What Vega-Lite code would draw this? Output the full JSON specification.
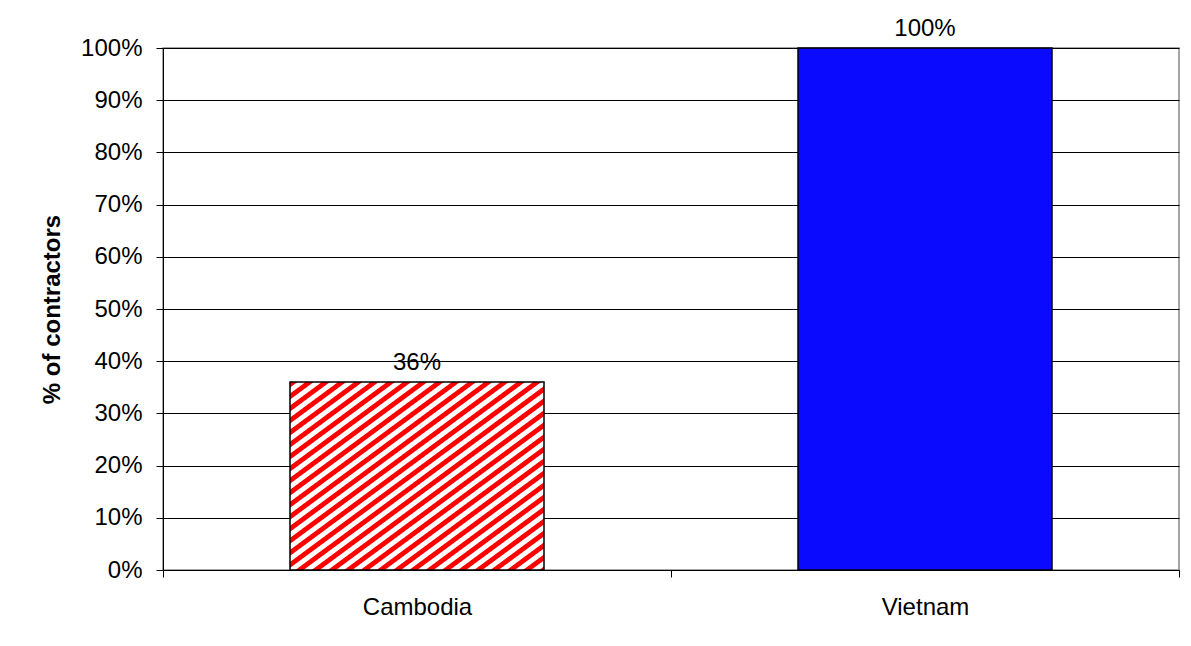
{
  "$schema": "https://vega.github.io/schema/vega-lite/v6.json",
  "width": 1016,
  "height": 522,
  "autosize": {"type": "none"},
  "padding": {"left": 163, "top": 48, "right": 12, "bottom": 76},
  "background": "white",
  "config": {
    "font": "Liberation Sans",
    "view": {"stroke": "#888888", "strokeWidth": 1.5}
  },
  "data": {
    "values": [
      {"country": "Cambodia", "pct": 0.36},
      {"country": "Vietnam", "pct": 1.0}
    ]
  },
  "encoding": {
    "x": {
      "field": "country",
      "type": "nominal",
      "sort": null,
      "scale": {"paddingInner": 0, "paddingOuter": 0},
      "axis": {
        "title": null,
        "labelAngle": 0,
        "labelFontSize": 24,
        "labelColor": "black",
        "labelPadding": 18,
        "domainColor": "black",
        "tickColor": "black",
        "tickSize": 7,
        "tickBand": "extent",
        "grid": false
      }
    },
    "y": {
      "field": "pct",
      "type": "quantitative",
      "scale": {"domain": [0, 1], "nice": false},
      "axis": {
        "format": ".0%",
        "values": [0, 0.1, 0.2, 0.3, 0.4, 0.5, 0.6, 0.7, 0.8, 0.9, 1.0],
        "title": "% of contractors",
        "titleFontSize": 24,
        "titleFontWeight": "bold",
        "titleColor": "black",
        "titlePadding": 16,
        "labelFontSize": 24,
        "labelColor": "black",
        "labelPadding": 14,
        "tickSize": 7,
        "tickColor": "black",
        "domainColor": "black",
        "gridColor": "black",
        "gridOpacity": 1
      }
    }
  },
  "layer": [
    {
      "transform": [{"filter": "datum.country === 'Cambodia'"}],
      "mark": {
        "type": "bar",
        "width": {"band": 0.5},
        "stroke": "black",
        "strokeWidth": 1.5,
        "fill": {
          "gradient": "linear",
          "x1": 0, "y1": 0, "x2": 1, "y2": 1,
          "stops": [
            {"offset": 0, "color": "#ff0000"}, {"offset": 0.013, "color": "#ff0000"}, {"offset": 0.016, "color": "#ffffff"}, {"offset": 0.029, "color": "#ffffff"},
            {"offset": 0.032, "color": "#ff0000"}, {"offset": 0.045, "color": "#ff0000"}, {"offset": 0.048, "color": "#ffffff"}, {"offset": 0.061, "color": "#ffffff"},
            {"offset": 0.064, "color": "#ff0000"}, {"offset": 0.077, "color": "#ff0000"}, {"offset": 0.08, "color": "#ffffff"}, {"offset": 0.093, "color": "#ffffff"},
            {"offset": 0.096, "color": "#ff0000"}, {"offset": 0.109, "color": "#ff0000"}, {"offset": 0.112, "color": "#ffffff"}, {"offset": 0.125, "color": "#ffffff"},
            {"offset": 0.128, "color": "#ff0000"}, {"offset": 0.141, "color": "#ff0000"}, {"offset": 0.144, "color": "#ffffff"}, {"offset": 0.157, "color": "#ffffff"},
            {"offset": 0.16, "color": "#ff0000"}, {"offset": 0.173, "color": "#ff0000"}, {"offset": 0.176, "color": "#ffffff"}, {"offset": 0.189, "color": "#ffffff"},
            {"offset": 0.192, "color": "#ff0000"}, {"offset": 0.205, "color": "#ff0000"}, {"offset": 0.208, "color": "#ffffff"}, {"offset": 0.221, "color": "#ffffff"},
            {"offset": 0.224, "color": "#ff0000"}, {"offset": 0.237, "color": "#ff0000"}, {"offset": 0.24, "color": "#ffffff"}, {"offset": 0.253, "color": "#ffffff"},
            {"offset": 0.256, "color": "#ff0000"}, {"offset": 0.269, "color": "#ff0000"}, {"offset": 0.272, "color": "#ffffff"}, {"offset": 0.285, "color": "#ffffff"},
            {"offset": 0.288, "color": "#ff0000"}, {"offset": 0.301, "color": "#ff0000"}, {"offset": 0.304, "color": "#ffffff"}, {"offset": 0.317, "color": "#ffffff"},
            {"offset": 0.32, "color": "#ff0000"}, {"offset": 0.333, "color": "#ff0000"}, {"offset": 0.336, "color": "#ffffff"}, {"offset": 0.349, "color": "#ffffff"},
            {"offset": 0.352, "color": "#ff0000"}, {"offset": 0.365, "color": "#ff0000"}, {"offset": 0.368, "color": "#ffffff"}, {"offset": 0.381, "color": "#ffffff"},
            {"offset": 0.384, "color": "#ff0000"}, {"offset": 0.397, "color": "#ff0000"}, {"offset": 0.4, "color": "#ffffff"}, {"offset": 0.413, "color": "#ffffff"},
            {"offset": 0.416, "color": "#ff0000"}, {"offset": 0.429, "color": "#ff0000"}, {"offset": 0.432, "color": "#ffffff"}, {"offset": 0.445, "color": "#ffffff"},
            {"offset": 0.448, "color": "#ff0000"}, {"offset": 0.461, "color": "#ff0000"}, {"offset": 0.464, "color": "#ffffff"}, {"offset": 0.477, "color": "#ffffff"},
            {"offset": 0.48, "color": "#ff0000"}, {"offset": 0.493, "color": "#ff0000"}, {"offset": 0.496, "color": "#ffffff"}, {"offset": 0.509, "color": "#ffffff"},
            {"offset": 0.512, "color": "#ff0000"}, {"offset": 0.525, "color": "#ff0000"}, {"offset": 0.528, "color": "#ffffff"}, {"offset": 0.541, "color": "#ffffff"},
            {"offset": 0.544, "color": "#ff0000"}, {"offset": 0.557, "color": "#ff0000"}, {"offset": 0.56, "color": "#ffffff"}, {"offset": 0.573, "color": "#ffffff"},
            {"offset": 0.576, "color": "#ff0000"}, {"offset": 0.589, "color": "#ff0000"}, {"offset": 0.592, "color": "#ffffff"}, {"offset": 0.605, "color": "#ffffff"},
            {"offset": 0.608, "color": "#ff0000"}, {"offset": 0.621, "color": "#ff0000"}, {"offset": 0.624, "color": "#ffffff"}, {"offset": 0.637, "color": "#ffffff"},
            {"offset": 0.64, "color": "#ff0000"}, {"offset": 0.653, "color": "#ff0000"}, {"offset": 0.656, "color": "#ffffff"}, {"offset": 0.669, "color": "#ffffff"},
            {"offset": 0.672, "color": "#ff0000"}, {"offset": 0.685, "color": "#ff0000"}, {"offset": 0.688, "color": "#ffffff"}, {"offset": 0.701, "color": "#ffffff"},
            {"offset": 0.704, "color": "#ff0000"}, {"offset": 0.717, "color": "#ff0000"}, {"offset": 0.72, "color": "#ffffff"}, {"offset": 0.733, "color": "#ffffff"},
            {"offset": 0.736, "color": "#ff0000"}, {"offset": 0.749, "color": "#ff0000"}, {"offset": 0.752, "color": "#ffffff"}, {"offset": 0.765, "color": "#ffffff"},
            {"offset": 0.768, "color": "#ff0000"}, {"offset": 0.781, "color": "#ff0000"}, {"offset": 0.784, "color": "#ffffff"}, {"offset": 0.797, "color": "#ffffff"},
            {"offset": 0.8, "color": "#ff0000"}, {"offset": 0.813, "color": "#ff0000"}, {"offset": 0.816, "color": "#ffffff"}, {"offset": 0.829, "color": "#ffffff"},
            {"offset": 0.832, "color": "#ff0000"}, {"offset": 0.845, "color": "#ff0000"}, {"offset": 0.848, "color": "#ffffff"}, {"offset": 0.861, "color": "#ffffff"},
            {"offset": 0.864, "color": "#ff0000"}, {"offset": 0.877, "color": "#ff0000"}, {"offset": 0.88, "color": "#ffffff"}, {"offset": 0.893, "color": "#ffffff"},
            {"offset": 0.896, "color": "#ff0000"}, {"offset": 0.909, "color": "#ff0000"}, {"offset": 0.912, "color": "#ffffff"}, {"offset": 0.925, "color": "#ffffff"},
            {"offset": 0.928, "color": "#ff0000"}, {"offset": 0.941, "color": "#ff0000"}, {"offset": 0.944, "color": "#ffffff"}, {"offset": 0.957, "color": "#ffffff"},
            {"offset": 0.96, "color": "#ff0000"}, {"offset": 0.973, "color": "#ff0000"}, {"offset": 0.976, "color": "#ffffff"}, {"offset": 0.989, "color": "#ffffff"},
            {"offset": 0.992, "color": "#ff0000"}, {"offset": 1, "color": "#ff0000"}
          ]
        }
      }
    },
    {
      "transform": [{"filter": "datum.country === 'Vietnam'"}],
      "mark": {"type": "bar", "width": {"band": 0.5}, "fill": "#0a0aff", "stroke": "black", "strokeWidth": 1.5}
    },
    {
      "mark": {"type": "text", "baseline": "bottom", "dy": -7, "fontSize": 24, "color": "black"},
      "encoding": {"text": {"field": "pct", "type": "quantitative", "format": ".0%"}}
    }
  ]
}
